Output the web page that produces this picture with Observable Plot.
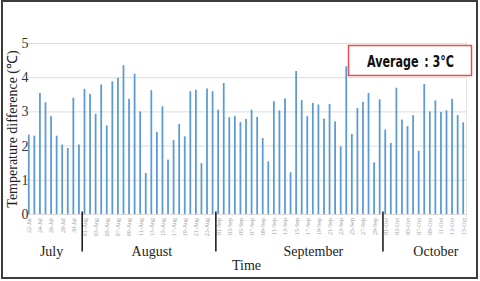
<!DOCTYPE html>
<html><head><meta charset="utf-8">
<script src="https://cdn.jsdelivr.net/npm/d3@7"></script>
<script src="https://cdn.jsdelivr.net/npm/@observablehq/plot@0.6"></script>
<style>
html,body{margin:0;padding:0;background:#fff;}
#wrap{position:relative;width:480px;height:281px;overflow:hidden;}
#border{position:absolute;left:1px;top:0;width:477px;height:279px;border:2px solid #3c3c3c;box-sizing:border-box;pointer-events:none;}
#chart{position:absolute;left:0;top:0;}
</style></head><body>
<div id="wrap"><div id="chart"></div><div id="border"></div></div>
<script>
// Days shown per month
const julyDays = [22,23,24,25,26,27,28,29,30,31];
const augustDays = [1,2,3,4,5,6,7,8,9,10,11,12,13,14,15,16,17,18,19,20,21,22,23,24];
const septemberDays = [1,2,3,4,5,6,7,8,9,10,11,12,13,14,15,16,17,18,19,20,21,22,23,24,25,26,27,28,29,30];
const octoberDays = [1,2,3,4,5,6,7,8,9,10,11,12,13,14,15];

// Temperature difference (°C) per day
const julyValues = [2.32,2.29,3.54,3.27,2.86,2.29,2.03,1.93,3.40,2.03];
const augustValues = [3.66,3.51,2.93,3.79,2.59,3.88,3.98,4.35,3.37,4.10,3.00,1.20,3.62,2.40,3.15,1.59,2.16,2.63,2.27,3.59,3.63,1.49,3.67,3.59];
const septemberValues = [3.05,3.83,2.83,2.86,2.69,2.78,3.05,2.84,2.22,1.54,3.30,3.03,3.38,1.22,4.18,3.33,2.86,3.25,3.20,2.79,3.22,2.71,1.98,4.32,2.34,3.10,3.28,3.54,1.51,3.35];
const octoberValues = [2.47,2.08,3.69,2.76,2.57,2.89,1.85,3.80,3.00,3.32,2.98,3.03,3.37,2.89,2.68];

const monthAbbr = ["Jul","Aug","Sep","Oct"];
const monthNames = ["July","August","September","October"];
const monthLabelAt = ["26-Jul","13-Aug","18-Sep","10-Oct"];
const dividers = ["01-Aug","01-Sep","01-Oct"];
const yTicks = [0,1,2,3,4,5];
const yLabel = "Temperature difference (\u2103)";
const xLabel = "Time";
const averageText = "Average\u2002: 3°C";

const pad = n => String(n).padStart(2,"0");
const groups = [[julyDays,julyValues],[augustDays,augustValues],[septemberDays,septemberValues],[octoberDays,octoberValues]];
const data = [];
groups.forEach(([days, vals], m) => days.forEach((d, i) => data.push({date: pad(d) + "-" + monthAbbr[m], value: vals[i]})));
const dates = data.map(d => d.date);
const tickDates = dates.filter((d, i) => i % 2 === 0);
const monthLabels = monthNames.map((name, i) => ({name, at: monthLabelAt[i]}));

const serif = "'Liberation Serif','Times New Roman',serif";
const step = (480 - 26 - 14) / dates.length;

const chart = Plot.plot({
  width: 480, height: 281,
  marginTop: 43, marginBottom: 67, marginLeft: 26, marginRight: 14,
  style: {background: "transparent", overflow: "visible"},
  x: {type: "band", domain: dates, padding: 0, axis: null},
  y: {domain: [0, 5], axis: null},
  marks: [
    Plot.ruleY(yTicks, {y: d => d, stroke: "#dcdcdc", strokeWidth: 1}),
    Plot.ruleX([dates[dates.length - 1]], {x: d => d, dx: step / 2, y1: 5.05, y2: -0.25, stroke: "#e4e4e4"}),
    Plot.barY(data, {x: "date", y: "value", fill: "#5b9bd5", insetLeft: 1.9, insetRight: 1.9}),
    Plot.text(yTicks, {y: d => d, text: d => String(d), frameAnchor: "left", textAnchor: "end", dx: 2, fontSize: 14, fontFamily: serif, fill: "#333"}),
    Plot.text(tickDates, {x: d => d, text: d => d, frameAnchor: "bottom", rotate: -90, textAnchor: "end", lineAnchor: "middle", dy: 3.5, fontSize: 6, fontFamily: serif, fill: "#9a9a9a"}),
    Plot.ruleX(dividers, {x: d => d, dx: -step / 2, y1: 0.07, y2: -1.1, stroke: "#111", strokeWidth: 1.5}),
    Plot.text(monthLabels, {x: "at", text: "name", frameAnchor: "bottom", lineAnchor: "middle", dy: 37, fontSize: 14, fontFamily: serif, fill: "#222"}),
    Plot.text([xLabel], {text: d => d, frameAnchor: "bottom", lineAnchor: "middle", dy: 51.5, fontSize: 14, fontFamily: serif, fill: "#222"}),
    Plot.text([yLabel], {text: d => d, frameAnchor: "left", rotate: -90, lineAnchor: "middle", textAnchor: "middle", dx: -13.5, fontSize: 14, fontFamily: serif, fill: "#222"}),
    Plot.frame({stroke: "#ec4b4b", strokeWidth: 1.5, fill: "white", insetLeft: 322, insetRight: -5, insetTop: 2, insetBottom: 139}),
    Plot.text([averageText], {text: d => d, frameAnchor: "top-right", textAnchor: "middle", lineAnchor: "middle", dx: -56, dy: 18.5, fontSize: 15, fontWeight: "bold", fontFamily: "'Liberation Sans Narrow','DejaVu Sans Condensed','Liberation Sans',Arial,sans-serif", fill: "#111", className: "avg-label"})
  ]
});
document.getElementById("chart").appendChild(chart);
// condense the annotation text to the narrow look of the original
chart.querySelectorAll(".avg-label text").forEach(t => {
  t.setAttribute("textLength", "87");
  t.setAttribute("lengthAdjust", "spacingAndGlyphs");
});
</script>
</body></html>
